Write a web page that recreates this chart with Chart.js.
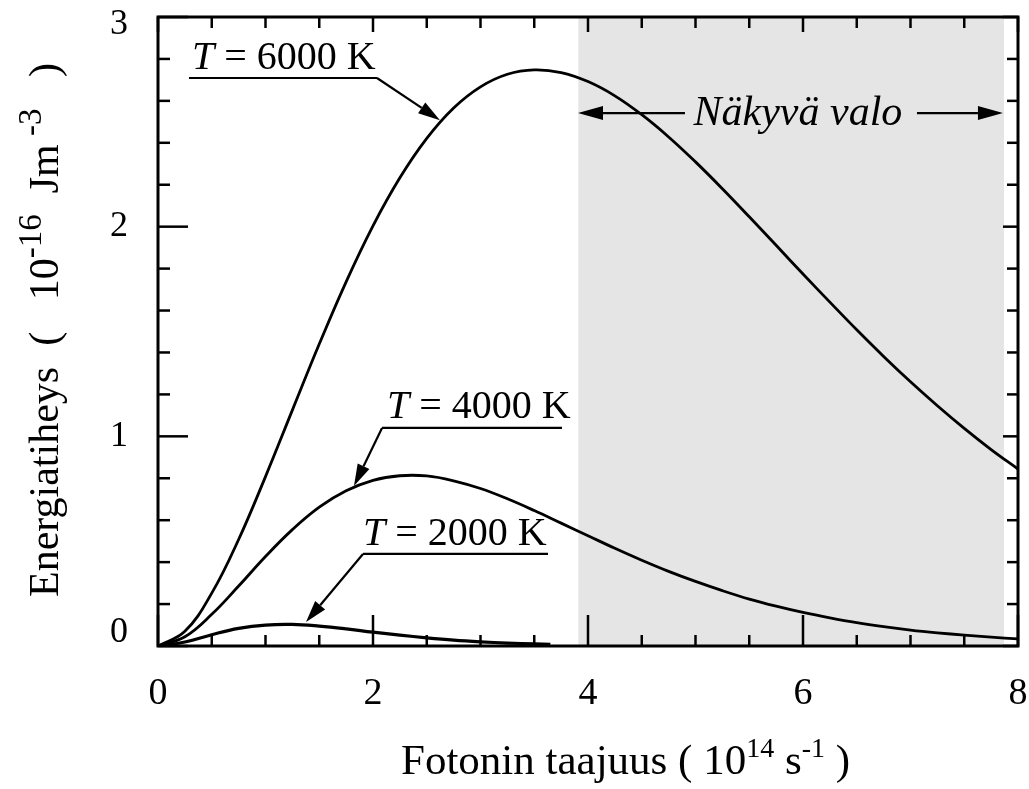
<!DOCTYPE html>
<html>
<head>
<meta charset="utf-8">
<script src="https://cdn.jsdelivr.net/npm/chart.js@4/dist/chart.umd.min.js"></script>
<style>
  html, body { margin: 0; padding: 0; background: #fff; }
  #kaavio { display: block; }
</style>
</head>
<body>
<canvas id="kaavio" width="1029" height="789"></canvas>
<script>
// Taajuudet (10^14 s^-1)
const taajuus = [0, 0.25, 0.5, 0.75, 1, 1.25, 1.5, 1.75, 2, 2.25, 2.5, 2.75, 3, 3.25, 3.5, 3.75,
  4, 4.25, 4.5, 4.75, 5, 5.25, 5.5, 5.75, 6, 6.25, 6.5, 6.75, 7, 7.25, 7.5, 7.75, 8]
const taajuus2000 = [0, 0.25, 0.5, 0.75, 1, 1.25, 1.5, 1.75, 2, 2.25, 2.5, 2.75, 3, 3.25, 3.5, 3.65]

// Energiatiheys (10^-16 Jm^-3) kuvasta luettuna
const T6000 = [0, 0.070, 0.252, 0.508, 0.808, 1.125, 1.440, 1.737, 2.004, 2.233, 2.421, 2.566, 2.667, 2.727, 2.748, 2.735,
  2.692, 2.624, 2.534, 2.428, 2.309, 2.181, 2.047, 1.911, 1.774, 1.640, 1.508, 1.381, 1.260, 1.146, 1.038, 0.937, 0.844]
const T4000 = [0, 0.044, 0.151, 0.286, 0.427, 0.555, 0.662, 0.740, 0.790, 0.812, 0.811, 0.788, 0.751, 0.702, 0.646, 0.586,
  0.526, 0.466, 0.409, 0.356, 0.308, 0.264, 0.224, 0.190, 0.160, 0.134, 0.111, 0.092, 0.076, 0.063, 0.052, 0.042, 0.034]
const T2000 = [0, 0.019, 0.054, 0.084, 0.100, 0.103, 0.095, 0.082, 0.066, 0.052, 0.039, 0.028, 0.020, 0.014, 0.010, 0.008]

// Näkyvän valon alue
const nakyvaAlue = [3.91, 7.87]

const xTikit = [0, 2, 4, 6, 8]
const yTikit = [0, 1, 2, 3]

// Merkinnät (datayksiköissä)
const merkinnat = [
  { lampo: "6000", x: 0.316, y: 2.752, viiva: [0.288, 2.037, 2.709], karki: [2.623, 2.508] },
  { lampo: "4000", x: 2.130, y: 1.087, viiva: [2.084, 3.758, 1.040], karki: [1.823, 0.763] },
  { lampo: "2000", x: 1.907, y: 0.482, viiva: [1.907, 3.628, 0.439], karki: [1.377, 0.114] }
]
const valoMerkinta = { x: 5.953, y: 2.484, nuoliY: 2.542, vasen: [4.902, 3.907], oikea: [7.060, 7.860] }

const FONTTI = "'Liberation Serif', 'Times New Roman', serif"

function pisteet(xs, ys) {
  return ys.map((v, i) => ({ x: xs[i], y: v }))
}

function viiva(ctx, x1, y1, x2, y2) {
  ctx.beginPath()
  ctx.moveTo(x1, y1)
  ctx.lineTo(x2, y2)
  ctx.stroke()
}

function nuoli(ctx, x1, y1, x2, y2, pituus = 22, leveys = 6.5) {
  const kulma = Math.atan2(y2 - y1, x2 - x1)
  const bx = x2 - pituus * Math.cos(kulma)
  const by = y2 - pituus * Math.sin(kulma)
  viiva(ctx, x1, y1, bx, by)
  ctx.beginPath()
  ctx.moveTo(x2, y2)
  ctx.lineTo(bx + leveys * Math.sin(kulma), by - leveys * Math.cos(kulma))
  ctx.lineTo(bx - leveys * Math.sin(kulma), by + leveys * Math.cos(kulma))
  ctx.closePath()
  ctx.fill()
}

// Teksti yläindekseillä, alkaa kohdasta x
function rikasTeksti(ctx, osat, x, y, koko, supKoko = 0.65) {
  const fontti = o => (o.sup ? Math.round(koko * supKoko) : koko) + "px " + FONTTI
  let cx = x
  ctx.textAlign = "left"
  ctx.textBaseline = "alphabetic"
  osat.forEach(o => {
    ctx.font = fontti(o)
    ctx.fillText(o.t, cx, o.sup ? y - koko * 0.4 : y)
    cx += ctx.measureText(o.t).width
  })
}

const piirto = {
  id: "piirto",
  beforeDatasetsDraw(chart) {
    const { ctx, chartArea: a, scales: { x } } = chart
    const x1 = x.getPixelForValue(nakyvaAlue[0])
    const x2 = x.getPixelForValue(nakyvaAlue[1])
    ctx.save()
    ctx.fillStyle = "#e5e5e5"
    ctx.fillRect(x1, a.top, x2 - x1, a.bottom - a.top)
    ctx.restore()
  },
  afterDatasetsDraw(chart) {
    const { ctx, chartArea: a, scales: { x, y } } = chart
    ctx.save()
    ctx.strokeStyle = "#000"
    ctx.fillStyle = "#000"

    // Tikit sisäänpäin
    ctx.lineWidth = 2.5
    for (let i = 0; i <= 16; i++) {
      const px = x.getPixelForValue(i / 2)
      const iso = i % 4 === 0
      viiva(ctx, px, a.bottom, px, a.bottom - (iso ? 31 : 11))
      viiva(ctx, px, a.top, px, a.top + (iso ? 15 : 11))
    }
    for (let i = 0; i <= 15; i++) {
      const py = y.getPixelForValue(i / 5)
      const iso = i % 5 === 0
      viiva(ctx, a.left, py, a.left + (iso ? 30 : 12), py)
      viiva(ctx, a.right, py, a.right - (iso ? 15 : 11), py)
    }

    // Kehys
    ctx.lineWidth = 3
    ctx.strokeRect(a.left, a.top, a.right - a.left, a.bottom - a.top)

    // Tikkien numerot
    ctx.font = "38px " + FONTTI
    ctx.textBaseline = "middle"
    ctx.textAlign = "center"
    xTikit.forEach(v => ctx.fillText(String(v), x.getPixelForValue(v), a.bottom + 48))
    ctx.font = "36px " + FONTTI
    ctx.textAlign = "right"
    yTikit.forEach(v => {
      const py = Math.min(Math.max(y.getPixelForValue(v), a.top + 8), a.bottom - 13)
      ctx.fillText(String(v), a.left - 30, py)
    })

    // Lämpötilamerkinnät
    ctx.lineWidth = 2.2
    ctx.textBaseline = "alphabetic"
    merkinnat.forEach(m => {
      const tx = x.getPixelForValue(m.x)
      const ty = y.getPixelForValue(m.y)
      ctx.textAlign = "left"
      ctx.font = "italic 40px " + FONTTI
      ctx.fillText("T", tx, ty)
      const tw = ctx.measureText("T").width
      ctx.font = "40px " + FONTTI
      ctx.fillText(" = " + m.lampo + " K", tx + tw, ty)
      const vx1 = x.getPixelForValue(m.viiva[0])
      const vx2 = x.getPixelForValue(m.viiva[1])
      const vy = y.getPixelForValue(m.viiva[2])
      viiva(ctx, vx1, vy, vx2, vy)
      const kx = x.getPixelForValue(m.karki[0])
      const ky = y.getPixelForValue(m.karki[1])
      const alku = m.lampo === "6000" ? vx2 : vx1
      nuoli(ctx, alku, vy, kx, ky)
    })

    // Näkyvä valo
    const ny = y.getPixelForValue(valoMerkinta.nuoliY)
    nuoli(ctx, x.getPixelForValue(valoMerkinta.vasen[0]), ny, x.getPixelForValue(valoMerkinta.vasen[1]), ny, 25, 7)
    nuoli(ctx, x.getPixelForValue(valoMerkinta.oikea[0]), ny, x.getPixelForValue(valoMerkinta.oikea[1]), ny, 25, 7)
    ctx.textAlign = "center"
    ctx.font = "italic 42px " + FONTTI
    ctx.fillText("Näkyvä valo", x.getPixelForValue(valoMerkinta.x), y.getPixelForValue(valoMerkinta.y))

    // Akselien otsikot
    rikasTeksti(ctx, [
      { t: "Fotonin taajuus ( 10" }, { t: "14", sup: true }, { t: " s" }, { t: "-1", sup: true }, { t: " )" }
    ], 401, 774, 43)
    ctx.translate(58, 597)
    ctx.rotate(-Math.PI / 2)
    rikasTeksti(ctx, [
      { t: "Energiatiheys  (   10" }, { t: "-16", sup: true }, { t: "  Jm" }, { t: " -3", sup: true }, { t: "   )" }
    ], 0, 0, 42, 0.78)
    ctx.restore()
  }
}

const ctx = document.getElementById("kaavio").getContext("2d")
const viivaTyyli = { borderColor: "#000", borderWidth: 2.8, pointRadius: 0, fill: false, tension: 0.4 }

new Chart(ctx, {
  type: "line",
  data: {
    datasets: [
      { label: "T = 6000 K", data: pisteet(taajuus, T6000), ...viivaTyyli },
      { label: "T = 4000 K", data: pisteet(taajuus, T4000), ...viivaTyyli },
      { label: "T = 2000 K", data: pisteet(taajuus2000, T2000), ...viivaTyyli, borderWidth: 3.2 }
    ]
  },
  options: {
    responsive: false,
    animation: false,
    devicePixelRatio: 1,
    layout: { padding: { top: 17, right: 11, left: 0, bottom: 0 } },
    plugins: { legend: { display: false }, tooltip: { enabled: false } },
    scales: {
      x: {
        type: "linear",
        min: 0,
        max: 8,
        afterFit: s => { s.height = 143 },
        grid: { display: false, drawTicks: false },
        border: { display: false },
        ticks: { display: false }
      },
      y: {
        type: "linear",
        min: 0,
        max: 3,
        afterFit: s => { s.width = 158 },
        grid: { display: false, drawTicks: false },
        border: { display: false },
        ticks: { display: false }
      }
    }
  },
  plugins: [piirto]
})
</script>
</body>
</html>
